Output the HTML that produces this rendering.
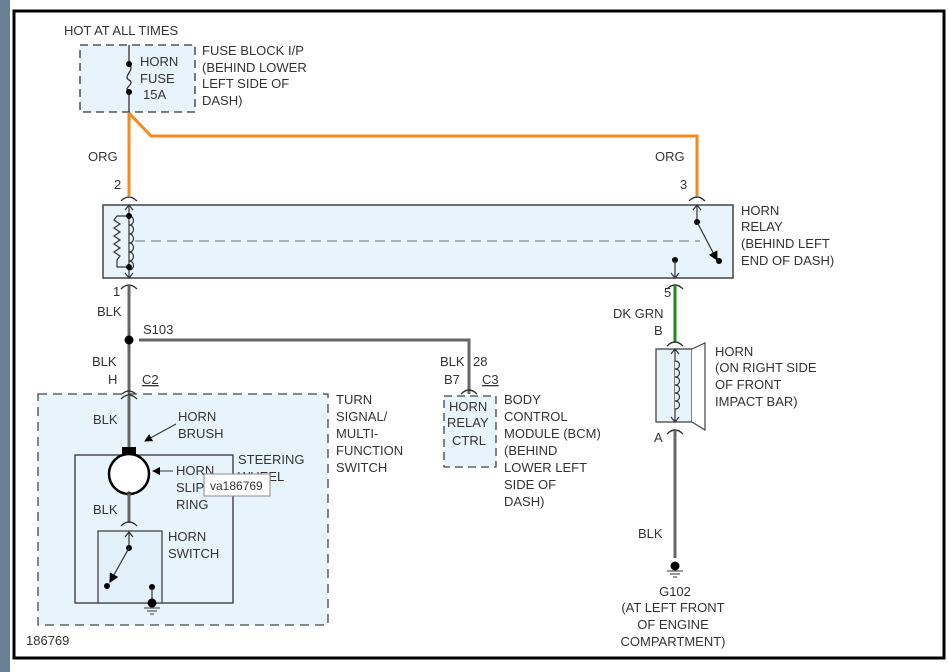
<!DOCTYPE html>
<html><head><meta charset="utf-8"><style>
html,body{margin:0;padding:0;background:#fff;width:948px;height:672px;overflow:hidden}
svg text{font-family:"Liberation Sans",Arial,sans-serif;font-size:13px;fill:#333}
</style></head><body>
<svg width="948" height="672" viewBox="0 0 948 672" xmlns="http://www.w3.org/2000/svg">
<rect x="0" y="0" width="10" height="672" fill="#6a7f96"/>
<rect x="14" y="11" width="930" height="647" fill="#fff" stroke="#000" stroke-width="3"/>
<defs>
<marker id="ah" markerWidth="8" markerHeight="8" refX="7" refY="4" orient="auto"><path d="M0,0 L8,4 L0,8 z" fill="#000"/></marker>
</defs>
<!-- fuse block -->
<rect x="80" y="45" width="115" height="67" fill="#e8f4fc" stroke="#333" stroke-dasharray="8,5" stroke-width="1.3"/>
<line x1="129" y1="45" x2="129" y2="64" stroke="#333" stroke-width="1.3"/>
<line x1="129" y1="92" x2="129" y2="112" stroke="#333" stroke-width="1.3"/>
<path d="M129,64 C136,70 122,76 129,80 C136,84 122,88 129,92" fill="none" stroke="#333" stroke-width="1.3"/>
<circle cx="129" cy="64" r="3" fill="#000"/><circle cx="129" cy="92" r="3" fill="#000"/>
<text x="64" y="35">HOT AT ALL TIMES</text>
<text x="140" y="66">HORN</text><text x="140" y="83">FUSE</text><text x="143" y="99">15A</text>
<text x="202" y="55">FUSE BLOCK I/P</text><text x="202" y="72">(BEHIND LOWER</text><text x="202" y="88">LEFT SIDE OF</text><text x="202" y="105">DASH)</text>
<!-- orange -->
<path d="M129,113 V196 M129,113 L151,136 H697 V196" fill="none" stroke="#f7891f" stroke-width="3"/>
<text x="88" y="161">ORG</text><text x="655" y="161">ORG</text>
<text x="114" y="189">2</text><text x="680" y="189">3</text>
<path d="M121,201 Q129,193 137,201 M689,201 Q697,193 705,201" fill="none" stroke="#333" stroke-width="1.3"/>
<!-- relay -->
<rect x="103" y="205" width="630" height="73" fill="#e8f4fc" stroke="#444" stroke-width="1.5"/>
<line x1="135" y1="241" x2="700" y2="241" stroke="#888" stroke-dasharray="10,6" stroke-width="1.2"/>
<line x1="129" y1="205" x2="129" y2="278" stroke="#333" stroke-width="1.2"/>
<path d="M125,210 L129,205 L133,210 M125,273 L129,278 L133,273" fill="none" stroke="#333" stroke-width="1.2"/>
<path d="M129,216 c6,0 6,9 0,9 c6,0 6,9 0,9 c6,0 6,9 0,9 c6,0 6,9 0,9 c6,0 6,9 0,9 c6,0 6,9 0,9" fill="none" stroke="#333" stroke-width="1.2"/>
<path d="M129,216 H117 l-3,4 l6,4 l-6,4 l6,4 l-6,4 l6,4 l-6,4 l6,4 l-6,4 l6,4 l-3,4 V267 H129" fill="none" stroke="#333" stroke-width="1.2"/>
<circle cx="129" cy="216" r="3" fill="#000"/><circle cx="129" cy="267" r="3" fill="#000"/>
<line x1="697" y1="205" x2="697" y2="222" stroke="#333" stroke-width="1.2"/>
<path d="M693,210 L697,205 L701,210" fill="none" stroke="#333" stroke-width="1.2"/>
<circle cx="697" cy="222" r="3" fill="#000"/>
<line x1="697" y1="222" x2="717" y2="260" stroke="#333" stroke-width="1.2" marker-end="url(#ah)"/>
<circle cx="719" cy="261" r="3" fill="#000"/>
<circle cx="675" cy="260" r="3" fill="#000"/>
<line x1="675" y1="260" x2="675" y2="278" stroke="#333" stroke-width="1.2"/>
<path d="M671,273 L675,278 L679,273" fill="none" stroke="#333" stroke-width="1.2"/>
<text x="741" y="215">HORN</text><text x="741" y="231">RELAY</text><text x="741" y="248">(BEHIND LEFT</text><text x="741" y="265">END OF DASH)</text>
<!-- left wires -->
<path d="M121,289 Q129,281 137,289 M667,289 Q675,281 683,289" fill="none" stroke="#333" stroke-width="1.3"/>
<text x="113" y="296">1</text>
<line x1="129" y1="286" x2="129" y2="394" stroke="#666" stroke-width="3"/>
<circle cx="129" cy="340" r="4.5" fill="#000"/>
<path d="M139,340 H469 V394" fill="none" stroke="#666" stroke-width="3"/>
<text x="97" y="316">BLK</text><text x="143" y="334">S103</text>
<text x="92" y="366">BLK</text><text x="108" y="384">H</text><text x="142" y="384" text-decoration="underline">C2</text>
<path d="M121,395 Q129,387 137,395" fill="none" stroke="#333" stroke-width="1.3"/>
<!-- BCM -->
<text x="440" y="366">BLK</text><text x="473" y="366">28</text><text x="444" y="384">B7</text><text x="482" y="384" text-decoration="underline">C3</text>
<path d="M461,394 Q469,386 477,394" fill="none" stroke="#333" stroke-width="1.3"/>
<rect x="444" y="396" width="52" height="71" fill="#e8f4fc" stroke="#444" stroke-dasharray="8,5" stroke-width="1.3"/>
<text x="449" y="411">HORN</text><text x="447" y="427">RELAY</text><text x="452" y="445">CTRL</text>
<text x="504" y="404">BODY</text><text x="504" y="421">CONTROL</text><text x="504" y="438">MODULE (BCM)</text><text x="504" y="455">(BEHIND</text><text x="504" y="472">LOWER LEFT</text><text x="504" y="489">SIDE OF</text><text x="504" y="506">DASH)</text>
<!-- turn signal switch -->
<rect x="38" y="394" width="290" height="231" fill="#e8f4fc" stroke="#444" stroke-dasharray="9,6" stroke-width="1.3"/>
<path d="M121,399 Q129,391 137,399" fill="none" stroke="#333" stroke-width="1.3"/>
<line x1="129" y1="396" x2="129" y2="448" stroke="#666" stroke-width="3"/>
<text x="336" y="404">TURN</text><text x="336" y="421">SIGNAL/</text><text x="336" y="438">MULTI-</text><text x="336" y="455">FUNCTION</text><text x="336" y="472">SWITCH</text>
<text x="93" y="424">BLK</text><text x="178" y="421">HORN</text><text x="178" y="438">BRUSH</text>
<line x1="176" y1="424" x2="145" y2="441" stroke="#333" stroke-width="1" marker-end="url(#ah)"/>
<rect x="75" y="455" width="158" height="148" fill="none" stroke="#333" stroke-width="1.3"/>
<rect x="122" y="447" width="14" height="9" fill="#000"/>
<circle cx="129" cy="474" r="20" fill="#fff" stroke="#000" stroke-width="2.5"/>
<circle cx="129" cy="494" r="2.5" fill="#333"/>
<line x1="173" y1="471" x2="153" y2="471" stroke="#333" stroke-width="1" marker-end="url(#ah)"/>
<text x="176" y="475">HORN</text><text x="176" y="492">SLIP</text><text x="176" y="509">RING</text>
<text x="238" y="464">STEERING</text><text x="238" y="481">WHEEL</text>
<line x1="129" y1="494" x2="129" y2="523" stroke="#666" stroke-width="3"/>
<text x="93" y="514">BLK</text>
<path d="M121,526 Q129,518 137,526" fill="none" stroke="#333" stroke-width="1.3"/>
<rect x="98" y="531" width="64" height="72" fill="#e2f0fa" stroke="#444" stroke-width="1.3"/>
<line x1="129" y1="531" x2="129" y2="548" stroke="#333" stroke-width="1.2"/>
<path d="M125,537 L129,532 L133,537" fill="none" stroke="#333" stroke-width="1.2"/>
<circle cx="129" cy="548" r="3" fill="#000"/>
<line x1="129" y1="548" x2="110" y2="582" stroke="#333" stroke-width="1.2" marker-end="url(#ah)"/>
<circle cx="107" cy="586" r="3" fill="#000"/>
<circle cx="152" cy="587" r="3" fill="#000"/>
<line x1="152" y1="587" x2="152" y2="603" stroke="#333" stroke-width="1.2"/>
<circle cx="152" cy="603" r="4.5" fill="#000"/>
<path d="M144,608 H160 M147,611 H157 M150,614 H154" stroke="#333" stroke-width="1"/>
<text x="168" y="541">HORN</text><text x="168" y="558">SWITCH</text>
<rect x="204" y="474" width="66" height="22" fill="#fff" stroke="#888" stroke-width="1"/>
<text x="210" y="490" style="font-size:12px">va186769</text>
<text x="26" y="645">186769</text>
<!-- horn -->
<line x1="675" y1="286" x2="675" y2="342" stroke="#1a8a1a" stroke-width="3"/>
<text x="664" y="297">5</text><text x="613" y="318">DK GRN</text><text x="654" y="335">B</text>
<path d="M667,346 Q675,338 683,346" fill="none" stroke="#333" stroke-width="1.3"/>
<rect x="656" y="349" width="36" height="73" fill="#e8f4fc" stroke="#444" stroke-width="1.3"/>
<path d="M692,349 L705,343 V430 L692,422" fill="#fff" stroke="#444" stroke-width="1.2"/>
<line x1="675" y1="349" x2="675" y2="422" stroke="#333" stroke-width="1.2"/>
<path d="M671,354 L675,349 L679,354 M671,417 L675,422 L679,417" fill="none" stroke="#333" stroke-width="1.2"/>
<path d="M675,361 c6,0 6,8 0,8 c6,0 6,8 0,8 c6,0 6,8 0,8 c6,0 6,8 0,8 c6,0 6,8 0,8 c6,0 6,8 0,8" fill="#e8f4fc" stroke="#333" stroke-width="1.2"/>
<text x="715" y="356">HORN</text><text x="715" y="372">(ON RIGHT SIDE</text><text x="715" y="389">OF FRONT</text><text x="715" y="406">IMPACT BAR)</text>
<path d="M667,434 Q675,426 683,434" fill="none" stroke="#333" stroke-width="1.3"/>
<text x="654" y="442">A</text>
<line x1="675" y1="431" x2="675" y2="558" stroke="#666" stroke-width="3"/>
<text x="638" y="538">BLK</text>
<circle cx="675" cy="566" r="4.5" fill="#000"/>
<path d="M667,571 H683 M670,574 H680 M673,577 H677" stroke="#333" stroke-width="1"/>
<text x="675" y="596" text-anchor="middle">G102</text>
<text x="673" y="612" text-anchor="middle">(AT LEFT FRONT</text>
<text x="673" y="629" text-anchor="middle">OF ENGINE</text>
<text x="673" y="646" text-anchor="middle">COMPARTMENT)</text>
</svg>
</body></html>
